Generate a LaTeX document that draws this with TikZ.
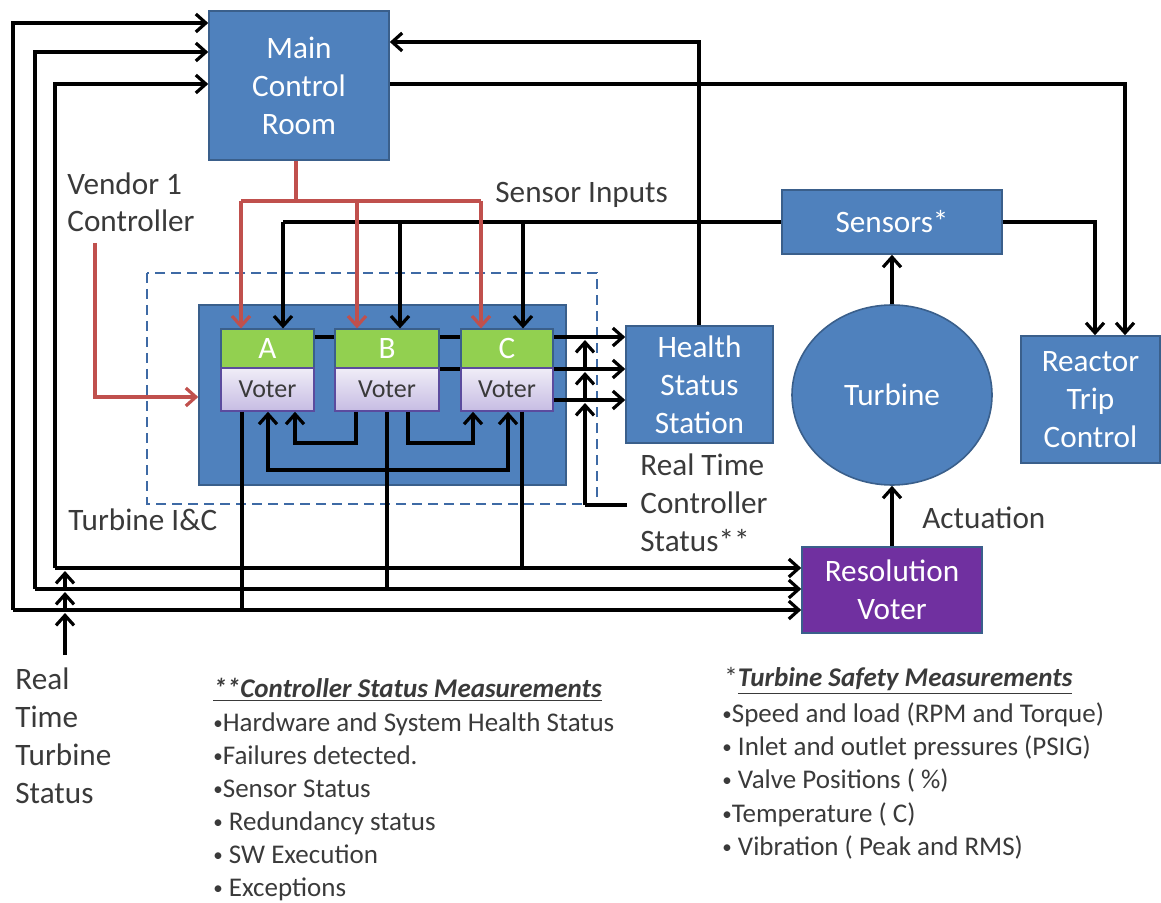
\documentclass[tikz,border=0pt]{standalone}
\usepackage{fontspec}
\setmainfont{Carlito}
\usetikzlibrary{arrows.meta,calc,shapes.geometric}
\definecolor{boxblue}{HTML}{4F81BD}
\definecolor{boxedge}{HTML}{3A5F8B}
\definecolor{rvpurple}{HTML}{7030A0}
\definecolor{grn}{HTML}{92D050}
\definecolor{vtop}{HTML}{F0EDF7}
\definecolor{vbot}{HTML}{C6BCE3}
\definecolor{vedge}{HTML}{5B4B9E}
\definecolor{myred}{HTML}{C0504D}
\definecolor{dashblue}{HTML}{3E6AA5}
\definecolor{txtgray}{HTML}{3A3A3A}
\newcommand\mainfs{\fontsize{15.6}{19}\selectfont}
\newcommand\listfs{\fontsize{13.5}{16.5}\selectfont}
\newcommand\voterfs{\fontsize{13}{15}\selectfont}
\newcommand\bul{\raisebox{0.12ex}{\fontsize{9.5}{9.5}\selectfont•}}
\tikzset{
  blk/.style={line width=1.7pt, draw=black},
  arr/.style={-{Straight Barb[length=5pt,width=9pt,line width=1.6pt]}},
  arrtwo/.style={{Straight Barb[length=5pt,width=9pt,line width=1.6pt]}-{Straight Barb[length=5pt,width=9pt,line width=1.6pt]}},
  redl/.style={line width=1.6pt, draw=myred},
  bluebox/.style={rectangle, fill=boxblue, draw=boxedge, line width=0.8pt, text=white, font=\mainfs, align=center, inner sep=0pt},
  greenbox/.style={rectangle, fill=grn, draw=boxedge, line width=0.6pt, text=white, font=\mainfs, inner sep=0pt},
  voterbox/.style={rectangle, top color=vtop, bottom color=vbot, draw=vedge, line width=0.8pt, text=txtgray, font=\voterfs, inner sep=0pt},
  lbl/.style={text=txtgray, font=\mainfs, inner sep=0pt, anchor=base west},
  lst/.style={text=txtgray, font=\listfs, inner sep=0pt, anchor=base west},
  dashbox/.style={draw=dashblue, line width=1.2pt, dash pattern=on 5pt off 3pt}
}
\begin{document}
\begin{tikzpicture}[x=0.5pt,y=-0.5pt]
\useasboundingbox (0,0) rectangle (1161,903);

% dashed controller boundary and I&C box
\draw[dashbox] (147,273) rectangle (597,504);
\node[bluebox, minimum width=183.5pt, minimum height=90pt] (IC) at (382.5,395) {};

% main boxes
\node[bluebox, minimum width=90pt, minimum height=74.5pt] (MCR) at (299,85.5) {Main\\Control\\Room};
\node[bluebox, minimum width=110pt, minimum height=32pt] (SEN) at (892,222) {Sensors*};
\node[bluebox, minimum width=69.5pt, minimum height=63.5pt] (RTC) at (1090.5,399.5) {Reactor\\Trip\\Control};
\node[bluebox, ellipse, minimum width=100pt, minimum height=90pt] (TUR) at (892,395) {Turbine};
\node[bluebox, minimum width=73.5pt, minimum height=58.5pt] (HSS) at (699.5,384.5) {Health\\Status\\Station};
\node[bluebox, fill=rvpurple, minimum width=90pt, minimum height=43pt] (RV) at (892,590) {Resolution\\Voter};

% lines to health status station (behind controller boxes)
\draw[blk,arr] (267.5,337) -- (HSS.west |- 0,337);
\draw[blk,arr] (387,369) -- (HSS.west |- 0,369);
\draw[blk,arr] (507,400) -- (HSS.west |- 0,400);

% controllers
\node[greenbox, minimum width=46.5pt, minimum height=19.5pt] (GA) at (267.5,348.5) {A};
\node[voterbox, minimum width=46.5pt, minimum height=21.5pt] (VA) at (267.5,389.5) {Voter};
\node[greenbox, minimum width=52pt, minimum height=19.5pt] (GB) at (387,348.5) {B};
\node[voterbox, minimum width=52pt, minimum height=21.5pt] (VB) at (387,389.5) {Voter};
\node[greenbox, minimum width=46pt, minimum height=19.5pt] (GC) at (507,348.5) {C};
\node[voterbox, minimum width=46pt, minimum height=21.5pt] (VC) at (507,389.5) {Voter};

% voter cross links
\draw[blk,arr] (VB.south -| 356,0) -- (356,443) -- (295,443) -- (VA.south -| 295,0);
\draw[blk,arr] (VB.south -| 408,0) -- (408,443) -- (473,443) -- (VC.south -| 473,0);
\draw[blk,arrtwo] (VA.south -| 268,0) -- (268,470) -- (508,470) -- (VC.south -| 508,0);

% voter outputs
\draw[blk] (VA.south -| 242,0) -- (242,610);
\draw[blk] (VB.south -| 387,0) -- (387,589);
\draw[blk] (VC.south -| 522,0) -- (522,568);

% bus lines to resolution voter and main control room
\draw[blk,arr] (55,568) -- (RV.west |- 0,568);
\draw[blk,arr] (35,589) -- (RV.west |- 0,589);
\draw[blk,arr] (13,610) -- (RV.west |- 0,610);
\draw[blk,arr] (55,568) -- (55,84) -- (MCR.west |- 0,84);
\draw[blk,arr] (35,589) -- (35,52) -- (MCR.west |- 0,52);
\draw[blk,arr] (13,610) -- (13,23) -- (MCR.west |- 0,23);

% real time turbine status
\coordinate (rtts) at (65,655);
\draw[blk,arr] (rtts) -- (65,613);
\draw[blk,arr] (65,610) -- (65,592);
\draw[blk,arr] (65,589) -- (65,571);

% real time controller status
\coordinate (rtcs) at (627,505);
\draw[blk] (rtcs) -- (585,505);
\draw[blk,arr] (585,505) -- (585,403);
\draw[blk,arr] (585,400) -- (585,372);
\draw[blk,arr] (585,369) -- (585,340);

% sensor inputs
\draw[blk] (SEN.west) -- (283,222);
\draw[blk,arr] (283,222) -- (GA.north -| 283,0);
\draw[blk,arr] (400,222) -- (GB.north -| 400,0);
\draw[blk,arr] (523,222) -- (GC.north -| 523,0);

% vendor / main control room commands (red)
\draw[redl] (MCR.south -| 296,0) -- (296,201);
\draw[redl] (241,201) -- (481,201);
\draw[redl,arr] (241,201) -- (GA.north -| 241,0);
\draw[redl,arr] (357,201) -- (GB.north -| 357,0);
\draw[redl,arr] (481,201) -- (GC.north -| 481,0);
\draw[redl,arr] (95,243) -- (95,397) -- (IC.west |- 0,397);

% top connections
\draw[blk,arr] (HSS.north -| 699,0) -- (699,42) -- (MCR.east |- 0,42);
\draw[blk,arr] (MCR.east |- 0,84) -- (1125,84) -- (RTC.north -| 1125,0);
\draw[blk,arr] (SEN.east) -- (1095,222) -- (RTC.north -| 1095,0);
\draw[blk,arr] (TUR.north) -- (SEN.south);
\draw[blk,arr] (RV.north) -- (TUR.south);

% labels
\node[lbl] (v1) at (67,195) {Vendor 1};
\node[lbl] (v2) at (67,232) {Controller};
\node[lbl] (si) at (495,203) {Sensor Inputs};
\node[lbl] (tic) at (68,530) {Turbine I\&C};
\node[lbl] (r1) at (640,475) {Real Time};
\node[lbl] (r2) at (640,513) {Controller};
\node[lbl] (r3) at (640,551) {Status**};
\node[lbl] (act) at (922,528) {Actuation};
\node[lbl] (t1) at (15,689) {Real};
\node[lbl] (t2) at (15,727) {Time};
\node[lbl] (t3) at (15,765) {Turbine};
\node[lbl] (t4) at (15,803) {Status};

% controller status list
\node[lst] (c0) at (213,697) {\itshape\bfseries\underline{**Controller Status Measurements}};
\node[lst] (c1) at (213,731) {\bul Hardware and System Health Status};
\node[lst] (c2) at (213,764) {\bul Failures detected.};
\node[lst] (c3) at (213,797) {\bul Sensor Status};
\node[lst] (c4) at (213,830) {\bul\ Redundancy status};
\node[lst] (c5) at (213,863) {\bul\ SW Execution};
\node[lst] (c6) at (213,896) {\bul\ Exceptions};

% turbine safety list
\node[lst] (s0) at (724,686) {*\itshape\bfseries\underline{Turbine Safety Measurements}};
\node[lst] (s1) at (722,722) {\bul Speed and load (RPM and Torque)};
\node[lst] (s2) at (722,755) {\bul\ Inlet and outlet pressures (PSIG)};
\node[lst] (s3) at (722,788) {\bul\ Valve Positions ( \%)};
\node[lst] (s4) at (722,822) {\bul Temperature ( C)};
\node[lst] (s5) at (722,855) {\bul\ Vibration ( Peak and RMS)};
\end{tikzpicture}
\end{document}
